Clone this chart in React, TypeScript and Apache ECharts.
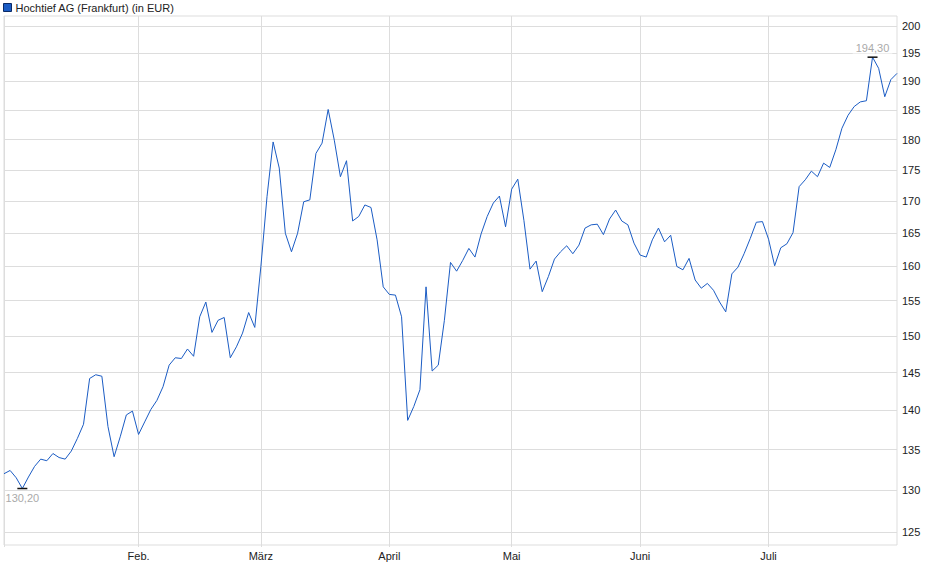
import React, { useEffect, useRef } from 'react';
import * as echarts from 'echarts';

const seriesName = 'Hochtief AG (Frankfurt) (in EUR)';
const monthLabels = ['Jan.', 'Feb.', 'März', 'April', 'Mai', 'Juni', 'Juli'];

// daily closing prices, one array per month (trading days only)
const janPrices = [132.0, 132.4, 131.5, 130.2, 131.6, 132.9, 133.8, 133.6, 134.5, 134.0, 133.8, 134.8, 136.4, 138.2, 144.2, 144.7, 144.5, 137.9, 134.1, 136.6, 139.4, 139.9];
const febPrices = [136.9, 138.5, 140.1, 141.3, 143.1, 146.0, 147.0, 146.9, 148.2, 147.2, 152.7, 154.8, 150.5, 152.2, 152.6, 147.0, 148.5, 150.4, 153.3, 151.2];
const marPrices = [160.0, 170.7, 179.6, 175.3, 165.0, 162.2, 165.0, 169.9, 170.2, 177.7, 179.4, 185.1, 179.9, 173.9, 176.5, 166.9, 167.6, 169.4, 169.0, 164.0, 157.0];
const aprPrices = [155.9, 155.8, 152.7, 138.7, 140.5, 142.7, 157.0, 145.2, 146.0, 152.2, 160.6, 159.3, 160.9, 162.7, 161.4, 164.9, 167.6, 169.7, 170.8, 166.0];
const mayPrices = [171.9, 173.5, 167.0, 159.6, 160.8, 156.3, 158.5, 161.1, 162.2, 163.1, 161.9, 163.2, 165.8, 166.3, 166.4, 164.8, 167.2, 168.6, 166.9, 166.3, 163.5];
const junPrices = [161.7, 161.4, 164.0, 165.8, 163.7, 164.7, 160.0, 159.5, 161.2, 158.0, 156.8, 157.5, 156.5, 154.8, 153.4, 158.9, 159.9, 161.9, 164.2, 166.7, 166.8];
const julPrices = [164.1, 160.1, 162.8, 163.4, 165.1, 172.3, 173.4, 174.8, 173.9, 176.1, 175.4, 178.3, 181.9, 184.1, 185.6, 186.4, 186.6, 194.3, 192.3, 187.3, 190.3, 191.4];

const yTicks = [125, 130, 135, 140, 145, 150, 155, 160, 165, 170, 175, 180, 185, 190, 195, 200];

const months = [janPrices, febPrices, marPrices, aprPrices, mayPrices, junPrices, julPrices];

const App = () => {
  const chartRef = useRef<any>(null);

  useEffect(() => {
    const chart = echarts.init(chartRef.current, null, { renderer: 'svg' });

    const categories: string[] = [];
    const values: number[] = [];
    const monthStarts = new Set<number>();
    months.forEach((prices, m) => {
      prices.forEach((p, d) => {
        if (d === 0) monthStarts.add(categories.length);
        categories.push(`${m + 1}/${d + 1}`);
        values.push(p);
      });
    });
    const monthOf = (cat: string) => {
      const [m, d] = cat.split('/').map(Number);
      return d === 1 ? monthLabels[m - 1] : '';
    };

    const option: any = {
      animation: false,
      textStyle: { fontFamily: '"Liberation Sans", Arial, sans-serif' },
      legend: {
        left: 3,
        top: 2,
        padding: 0,
        icon: 'rect',
        itemWidth: 8,
        itemHeight: 8,
        itemGap: 5,
        itemStyle: { borderColor: '#0b2a66', borderWidth: 1 },
        textStyle: { fontSize: 11, color: '#222', padding: [0, 0, 0, -1] },
        data: [seriesName],
      },
      grid: {
        left: 4,
        right: 43,
        top: 16,
        bottom: 34,
        show: true,
        borderColor: '#ddd',
        borderWidth: 1,
        containLabel: false,
        outerBoundsMode: 'none',
      },
      xAxis: {
        type: 'category',
        data: categories,
        boundaryGap: false,
        axisLine: { show: false },
        axisTick: {
          show: true,
          length: 2,
          lineStyle: { color: '#ddd' },
          interval: (i: number) => monthStarts.has(i),
        },
        axisLabel: {
          fontSize: 11,
          color: '#222',
          margin: 5,
          interval: (i: number) => i > 0 && monthStarts.has(i),
          formatter: (v: string) => monthOf(v),
        },
        splitLine: {
          show: true,
          lineStyle: { color: '#ddd', width: 1 },
          interval: (i: number) => monthStarts.has(i),
        },
      },
      yAxis: {
        type: 'log',
        logBase: 10,
        position: 'right',
        min: 123.55,
        max: 201.87,
        axisLine: { show: false },
        axisTick: { show: false },
        axisLabel: { show: false },
        splitLine: { show: false },
      },
      series: [
        {
          name: seriesName,
          type: 'line',
          data: values,
          showSymbol: false,
          symbol: 'none',
          z: 3,
          lineStyle: { color: '#1b5cc4', width: 1 },
          itemStyle: { color: '#1b5cc4' },
          markLine: {
            silent: true,
            z: 1,
            symbol: 'none',
            animation: false,
            lineStyle: { color: '#ddd', width: 1, type: 'solid' },
            label: {
              show: true,
              position: 'end',
              distance: 5,
              fontSize: 11,
              color: '#222',
              formatter: (p: any) => String(p.value),
            },
            emphasis: { disabled: true },
            data: yTicks.map((v) => ({ yAxis: v })),
          },
          markPoint: {
            silent: true,
            z: 6,
            symbol: 'rect',
            symbolSize: [10, 1.5],
            itemStyle: { color: '#111' },
            label: {
              show: true,
              fontSize: 11,
              color: '#aaa',
              distance: 3,
              formatter: (p: any) => Number(p.value).toFixed(2).replace('.', ','),
            },
            data: [
              { type: 'min', label: { position: 'bottom' } },
              {
                type: 'max',
                label: { position: 'top', backgroundColor: '#fff', padding: [0, 3] },
              },
            ],
          },
        },
      ],
    };

    chart.setOption(option);

    return () => {
      chart.dispose();
    };
  }, []);

  return (
    <div
      ref={chartRef}
      style={{ position: 'absolute', left: 0, top: 0, width: '940px', height: '579px' }}
    />
  );
};

export default App;
